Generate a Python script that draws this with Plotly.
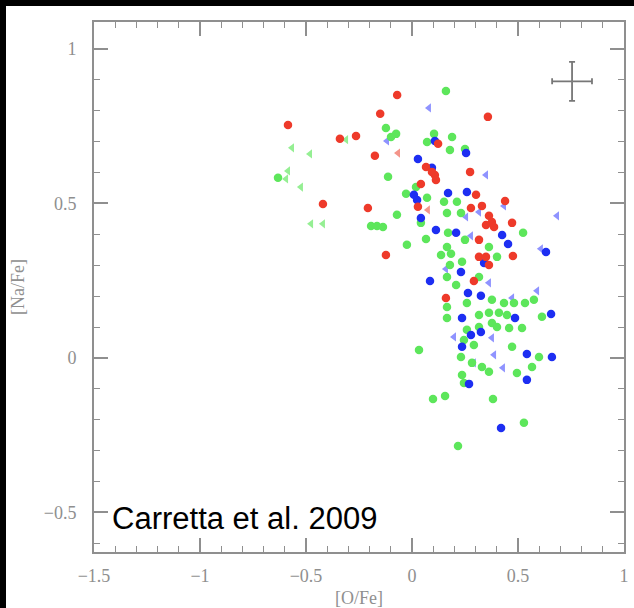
import plotly.graph_objects as go

# ---- data ----
red_x = [-0.07, -0.15, -0.585, -0.264, -0.34, -0.175, 0.066, 0.358, 0.123, 0.108, 0.113, 0.094,
         0.274, 0.042, 0.028, 0.302, 0.278, 0.33, 0.439, 0.363, 0.377, 0.349, 0.387, 0.472,
         0.476, 0.316, 0.349, 0.363, 0.316, 0.292, 0.16, -0.42, -0.208, -0.123]
red_y = [0.851, 0.79, 0.754, 0.718, 0.709, 0.654, 0.618, 0.78, 0.693, 0.592, 0.576, 0.602,
         0.602, 0.563, 0.489, 0.528, 0.485, 0.492, 0.508, 0.46, 0.44, 0.43, 0.424, 0.437,
         0.33, 0.327, 0.327, 0.301, 0.382, 0.249, 0.194, 0.498, 0.485, 0.333]
red_lim_x = [-0.066, 0.075]
red_lim_y = [0.663, 0.479]

blue_x = [0.108, 0.255, 0.028, 0.094, 0.009, 0.024, 0.042, 0.17, 0.259, 0.113, 0.208, 0.425,
          0.453, 0.632, 0.34, 0.231, 0.085, 0.264, 0.325, 0.236, 0.486, 0.656, 0.325, 0.278,
          0.236, 0.542, 0.66, 0.542, 0.269, 0.42]
blue_y = [0.702, 0.663, 0.644, 0.615, 0.528, 0.511, 0.453, 0.534, 0.537, 0.414, 0.405, 0.398,
          0.369, 0.343, 0.307, 0.278, 0.249, 0.21, 0.201, 0.129, 0.129, 0.142, 0.084, 0.074,
          0.036, 0.013, 0.003, -0.071, -0.084, -0.227]
blue_lim_x = [0.08, -0.118, 0.349, 0.684, 0.608, 0.255, 0.316, 0.434, 0.278, 0.16, 0.363,
              0.59, 0.472, 0.198, 0.377, 0.387, 0.429, 0.292]
blue_lim_y = [0.809, 0.702, 0.592, 0.46, 0.353, 0.456, 0.472, 0.492, 0.395, 0.288, 0.243,
              0.217, 0.194, 0.068, 0.065, 0.01, -0.032, -0.016]

green_x = [0.16, -0.123, -0.075, -0.099, 0.104, 0.189, 0.071, 0.179, 0.25, -0.632, -0.113,
           -0.028, 0.019, 0.071, 0.151, 0.212, 0.165, 0.231, -0.071, -0.193, -0.165, -0.137,
           0.042, 0.066, -0.024, 0.17, 0.25, 0.165, 0.524, 0.363, 0.137, 0.184, 0.236, 0.179,
           0.401, 0.165, 0.208, 0.316, 0.165, 0.165, 0.259, 0.377, 0.434, 0.481, 0.533, 0.575,
           0.613, 0.316, 0.363, 0.41, 0.448, 0.377, 0.401, 0.458, 0.519, 0.259, 0.316, 0.245,
           0.292, 0.231, 0.283, 0.33, 0.363, 0.472, 0.599, 0.566, 0.495, 0.236, 0.245, 0.033,
           0.099, 0.156, 0.382, 0.528, 0.217]
green_y = [0.864, 0.744, 0.725, 0.715, 0.725, 0.715, 0.699, 0.673, 0.676, 0.583, 0.586,
           0.531, 0.553, 0.518, 0.505, 0.505, 0.469, 0.469, 0.463, 0.427, 0.427, 0.424,
           0.437, 0.385, 0.366, 0.405, 0.382, 0.359, 0.405, 0.359, 0.333, 0.337, 0.311, 0.301,
           0.327, 0.262, 0.236, 0.262, 0.165, 0.129, 0.178, 0.188, 0.178, 0.178, 0.178, 0.188,
           0.133, 0.139, 0.146, 0.146, 0.139, 0.113, 0.1, 0.097, 0.097, 0.091, 0.1, 0.058,
           0.042, 0.003, -0.016, -0.029, -0.045, 0.036, 0.003, -0.029, -0.049, -0.055, -0.081,
           0.026, -0.133, -0.123, -0.133, -0.21, -0.285]
green_lim_x = [-0.566, -0.481, -0.585, -0.594, -0.524, -0.476, -0.42, -0.311]
green_lim_y = [0.68, 0.66, 0.605, 0.579, 0.553, 0.434, 0.434, 0.706]

err_x = [0.755]
err_y = [0.895]
err_dx = [0.094]
err_dy = [0.063]

x_ticks = [-1.5, -1, -0.5, 0, 0.5, 1]
y_ticks = [-0.5, 0, 0.5, 1]

RED, GREEN, BLUE = "#ee3a2a", "#5de65b", "#1d2ef2"
RED_L, GREEN_L, BLUE_L = "#f4958a", "#95ef93", "#8f93ff"
GREY = "#8f8f8f"

fig = go.Figure()


def add_limits(xs, ys, col):
    fig.add_trace(go.Scatter(x=xs, y=ys, mode="markers", hoverinfo="skip",
                             marker=dict(symbol="triangle-left", size=8, color=col,
                                         line=dict(width=0))))


add_limits(green_lim_x, green_lim_y, GREEN_L)
add_limits(blue_lim_x, blue_lim_y, BLUE_L)
add_limits(red_lim_x, red_lim_y, RED_L)

for xs, ys, col in [(green_x, green_y, GREEN), (blue_x, blue_y, BLUE), (red_x, red_y, RED)]:
    fig.add_trace(go.Scatter(x=xs, y=ys, mode="markers",
                             marker=dict(symbol="circle", size=8.5, color=col, line=dict(width=0))))

fig.add_trace(go.Scatter(x=err_x, y=err_y, mode="markers", marker=dict(size=1, color=GREY),
                         error_x=dict(type="data", array=err_dx, color="#777777", thickness=1.8, width=3),
                         error_y=dict(type="data", array=err_dy, color="#777777", thickness=1.8, width=3)))

L, R, T, B = 94, 10, 22, 56
W, H = 634, 608
pw, ph = W - L - R, H - T - B
EDGE = 6

# black strips along the top and left edges of the picture
fig.add_shape(type="rect", xref="paper", yref="paper", layer="above",
              x0=-L / pw, x1=(W - L) / pw, y0=1 + (T - EDGE) / ph, y1=1 + T / ph,
              fillcolor="black", line=dict(width=0))
fig.add_shape(type="rect", xref="paper", yref="paper", layer="above",
              x0=-L / pw, x1=-(L - EDGE) / pw, y0=-B / ph, y1=1 + T / ph,
              fillcolor="black", line=dict(width=0))

fig.add_annotation(x=-1.425, y=-0.52, xref="x", yref="y", text="Carretta et al. 2009",
                   showarrow=False, xanchor="left", yanchor="middle",
                   font=dict(family="Liberation Sans", size=31, color="black"))

axis_common = dict(showline=True, linecolor=GREY, linewidth=2, mirror="allticks",
                   ticks="inside", ticklen=14, tickwidth=1.5, tickcolor=GREY,
                   showgrid=False, zeroline=False, automargin=False,
                   tickfont=dict(family="Liberation Serif", size=18, color=GREY),
                   title_font=dict(family="Liberation Serif", size=18, color=GREY))

fig.update_xaxes(range=[-1.5, 1.0], tickvals=x_ticks, ticktext=["−1.5", "−1", "−0.5", "0", "0.5", "1"],
                 minor=dict(dtick=0.1, ticks="inside", ticklen=6, tickcolor=GREY, tickwidth=1.2),
                 title_text="[O/Fe]", title_standoff=12, ticklabelstandoff=6, **axis_common)
fig.update_yaxes(range=[-0.628, 1.087], tickvals=y_ticks, ticktext=["−0.5", "0", "0.5", "1"],
                 minor=dict(dtick=0.1, ticks="inside", ticklen=6, tickcolor=GREY, tickwidth=1.2),
                 title_text="[Na/Fe]", title_standoff=14, ticklabelstandoff=12, **axis_common)

fig.update_layout(width=W, height=H, margin=dict(l=L, r=R, t=T, b=B, autoexpand=False),
                  paper_bgcolor="white", plot_bgcolor="white", showlegend=False)

fig.write_html("out.html")
